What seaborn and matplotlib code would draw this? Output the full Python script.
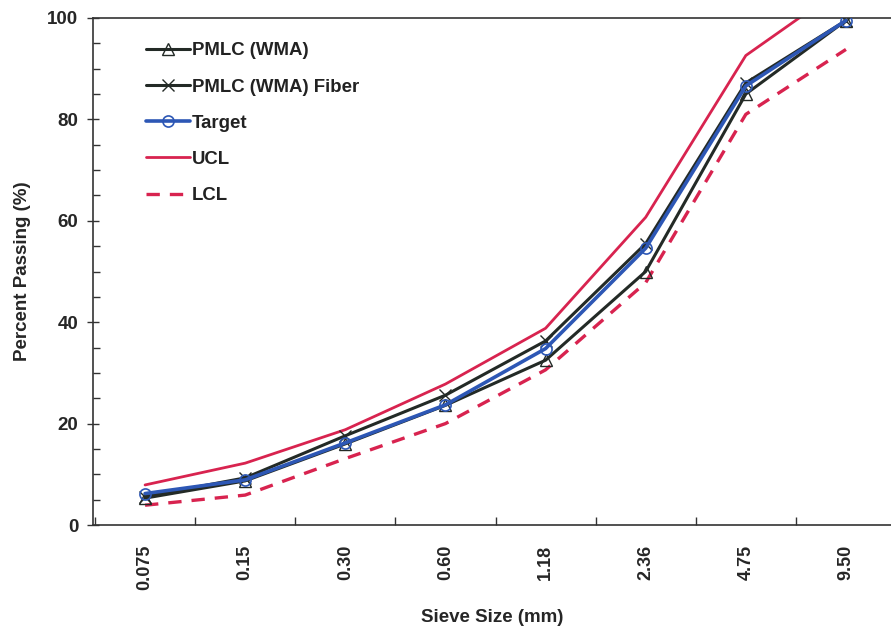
import matplotlib
matplotlib.use("Agg")
import matplotlib.pyplot as plt
import seaborn as sns
import pandas as pd
import numpy as np
from matplotlib.ticker import MultipleLocator, FixedLocator

sieve_labels = ["0.075", "0.15", "0.30", "0.60", "1.18", "2.36", "4.75", "9.50"]
pmlc_wma = [5.3, 8.7, 16.0, 23.6, 32.5, 50.0, 85.0, 99.5]
pmlc_fiber = [5.6, 9.3, 17.6, 25.6, 36.3, 55.5, 87.2, 99.5]
target = [6.2, 8.9, 16.2, 23.7, 34.8, 54.6, 86.6, 99.5]
ucl = [7.9, 12.2, 18.8, 27.8, 38.8, 60.7, 92.6, 106.5]
lcl = [3.9, 5.9, 13.1, 20.0, 30.6, 47.8, 81.0, 93.8]

sns.set_style("white")
plt.rcParams['font.family'] = ['Liberation Sans', 'DejaVu Sans']

x = np.arange(len(sieve_labels))
fig = plt.figure(figsize=(8.91, 6.33), dpi=100)
ax = fig.add_axes([93/891, 108/633, 1 - 93/891, (525-18)/633])

dark = "#232a26"
blue = "#2d57b5"
red = "#d8234f"

series = [
    ("PMLC (WMA)", pmlc_wma, dict(color=dark, marker="^", markersize=8, markerfacecolor="none",
                                  markeredgecolor=dark, markeredgewidth=1.0, linewidth=2.2), 3),
    ("PMLC (WMA) Fiber", pmlc_fiber, dict(color=dark, marker="x", markersize=8,
                                          markeredgecolor=dark, markeredgewidth=1.0, linewidth=2.2), 3),
    ("Target", target, dict(color=blue, marker="o", markersize=8, markerfacecolor="none",
                            markeredgecolor=blue, markeredgewidth=1.2, linewidth=2.6), 4),
    ("UCL", ucl, dict(color=red, linewidth=2.0), 2),
    ("LCL", lcl, dict(color=red, linewidth=2.4, linestyle=(0, (4, 3))), 2),
]

for name, vals, kw, z in series:
    df = pd.DataFrame({"x": x, "y": vals})
    sns.lineplot(data=df, x="x", y="y", ax=ax, label=name, sort=False, zorder=z, **kw)

ax.set_xlim(-0.52, 7.45)
ax.set_ylim(0, 100)

ax.xaxis.set_major_locator(FixedLocator(x))
ax.set_xticklabels(sieve_labels, rotation=90, fontsize=13, fontweight="bold")
ax.xaxis.set_minor_locator(FixedLocator(np.arange(-0.5, 8, 1)))
ax.tick_params(axis="x", which="major", bottom=True, length=0, pad=14)
ax.tick_params(axis="x", which="minor", bottom=True, length=6, direction="in", width=1, color="#333333")

ax.yaxis.set_major_locator(MultipleLocator(20))
ax.yaxis.set_minor_locator(MultipleLocator(5))
ax.set_yticks([0, 20, 40, 60, 80, 100])
ax.set_yticklabels(["0", "20", "40", "60", "80", "100"], fontsize=13.5, fontweight="bold")
ax.tick_params(axis="y", which="major", left=True, length=9, direction="inout", width=1, pad=6, color="#333333")
ax.tick_params(axis="y", which="minor", left=True, length=5, direction="in", width=1, color="#333333")

for s in ["left", "bottom", "top"]:
    ax.spines[s].set_color("#333333")
    ax.spines[s].set_linewidth(1.2)
ax.spines["right"].set_visible(False)

ax.set_xlabel("Sieve Size (mm)", fontsize=13.5, fontweight="bold", labelpad=14)
ax.set_ylabel("Percent Passing (%)", fontsize=13.5, fontweight="bold", labelpad=12)

leg = ax.legend(loc="upper left", bbox_to_anchor=(0.045, 0.985), frameon=False,
                prop={"weight": "bold", "size": 13.4}, handlelength=2.4, handletextpad=0.1,
                labelspacing=1.03)
for t in leg.get_texts():
    t.set_color("#222222")

fig.savefig("out.png", dpi=100)
